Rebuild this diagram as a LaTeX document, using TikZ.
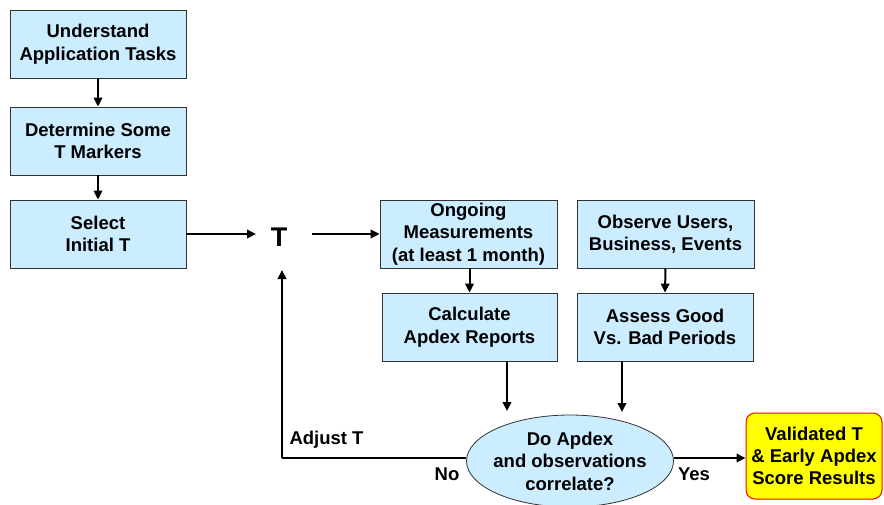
\documentclass[tikz,border=0pt]{standalone}
\usepackage{fontspec}
\setmainfont{Liberation Sans}
\usetikzlibrary{arrows.meta,shapes.geometric}
\definecolor{boxfill}{HTML}{CCECFF}
\definecolor{valfill}{HTML}{FFFF00}
\begin{document}
\begin{tikzpicture}[x=1pt,y=-1pt,
  proc/.style={draw=black!80,line width=0.8pt,fill=boxfill,minimum width=176pt,minimum height=68pt,align=center,font=\bfseries\fontsize{18.5}{22.5}\selectfont,inner sep=0pt},
  conn/.style={line width=2pt,-{Triangle[length=9pt,width=8.5pt]}},
  lbl/.style={font=\bfseries\fontsize{18.5}{22}\selectfont}]
\useasboundingbox (0,0) rectangle (884,504);
\node[proc] (und) at (98,44) {Understand\\Application Tasks};
\node[proc] (det) at (98,141) {Determine Some\\T Markers};
\node[proc] (sel) at (98,234) {Select\\Initial T};
\node[font=\bfseries\fontsize{27}{30}\selectfont] (T) at (279,237) {T};
\node[proc,minimum width=177pt] (ong) at (468.5,234) {Ongoing\\Measurements\\(at least 1 month)};
\node[proc,minimum width=177pt] (obs) at (665.5,234) {Observe Users,\\Business, Events};
\node[proc,minimum width=175pt] (cal) at (469.5,327) {Calculate\\Apdex Reports};
\node[proc] (ass) at (665,327) {Assess Good\\Vs. Bad Periods};
\node[ellipse,draw=black!80,line width=0.8pt,fill=boxfill,minimum width=207pt,minimum height=92pt,inner sep=0pt] (dec) at (570,461) {};
\node[align=center,font=\bfseries\fontsize{18.5}{22.5}\selectfont,inner sep=0pt] (dectext) at (dec.center) {Do Apdex\\and observations\\correlate?};
\node[draw=red,line width=1pt,fill=valfill,rounded corners=9pt,minimum width=136pt,minimum height=86pt,align=center,font=\bfseries\fontsize{18.5}{22}\selectfont,inner sep=0pt] (val) at (814,456) {Validated T\\\& Early Apdex\\Score Results};
\coordinate (tin) at (256,234);
\coordinate (tout) at (312,234);
\coordinate (corner) at (282,458);
\coordinate (tbot) at (282,270);
\draw[conn] (und.south) -- (det.north);
\draw[conn] (det.south) -- (sel.north);
\draw[conn] (sel.east) -- (tin);
\draw[conn] (tout) -- (ong.west);
\draw[conn] (ong.south -| cal.south) -- (cal.north);
\draw[conn] (obs.south) -- (ass.north);
\draw[conn] (507,361) -- (507,411);
\draw[conn] (622,361) -- (622,412);
\draw[line width=2pt] (dec.west |- 0,458) -- (corner);
\draw[conn] (corner) -- (tbot);
\draw[conn] (dec.east |- 0,458) -- (val.west |- 0,458);
\node[lbl,anchor=west] (adj) at (286,440) {Adjust T};
\node[lbl] (no) at (447,474) {No};
\node[lbl] (yes) at (694,474) {Yes};
\end{tikzpicture}
\end{document}
